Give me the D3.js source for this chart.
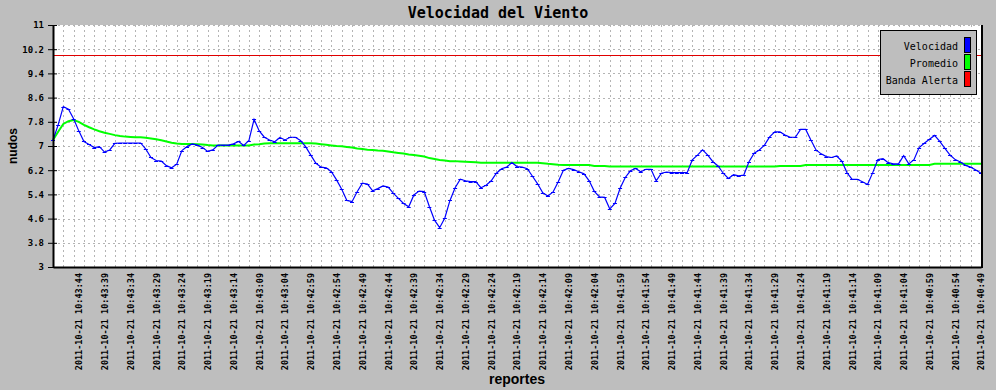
<!DOCTYPE html>
<html>
<head>
<meta charset="utf-8">
<script src="https://cdnjs.cloudflare.com/ajax/libs/d3/7.8.5/d3.min.js"></script>
<style>
body { margin: 0; background: #bebebe; }
svg { display: block; }
.grid line { stroke: #b4b4b4; stroke-dasharray: 2,3; }
</style>
</head>
<body>
<script>
// velocidad del viento, una lectura por segundo (nudos)
var velocidad = [7.2, 7.7, 8.3, 8.22, 7.9, 7.5, 7.15, 7.05, 6.95, 6.98,
  6.8, 6.87, 7.09, 7.1, 7.1, 7.1, 7.1, 7.1, 6.9, 6.62,
  6.52, 6.5, 6.35, 6.28, 6.4, 6.85, 6.98, 7.07, 7.03, 6.95,
  6.82, 6.87, 7.03, 7.03, 7.03, 7.07, 7.15, 7.02, 7.18, 7.88,
  7.5, 7.29, 7.2, 7.14, 7.28, 7.2, 7.29, 7.29, 7.18, 6.98,
  6.7, 6.43, 6.3, 6.28, 6.15, 5.88, 5.57, 5.2, 5.16, 5.49,
  5.77, 5.74, 5.52, 5.59, 5.68, 5.64, 5.44, 5.27, 5.1, 4.99,
  5.38, 5.51, 5.49, 5.0, 4.55, 4.3, 4.62, 5.2, 5.62, 5.9,
  5.85, 5.82, 5.82, 5.62, 5.7, 5.85, 6.1, 6.25, 6.3, 6.45,
  6.32, 6.3, 6.25, 6.0, 5.75, 5.45, 5.35, 5.48, 5.82, 6.2,
  6.26, 6.22, 6.15, 6.08, 5.85, 5.5, 5.32, 5.3, 4.92, 5.1,
  5.6, 5.96, 6.18, 6.26, 6.15, 6.23, 6.23, 5.85, 6.1, 6.14,
  6.12, 6.12, 6.12, 6.12, 6.54, 6.7, 6.87, 6.7, 6.48, 6.34,
  6.1, 5.93, 6.05, 6.01, 6.04, 6.48, 6.76, 6.87, 7.03, 7.3,
  7.47, 7.47, 7.36, 7.29, 7.29, 7.55, 7.55, 7.2, 6.87, 6.74,
  6.65, 6.62, 6.67, 6.5, 6.12, 5.9, 5.9, 5.82, 5.73, 6.12,
  6.55, 6.58, 6.45, 6.41, 6.41, 6.68, 6.41, 6.55, 6.95, 7.09,
  7.22, 7.35, 7.15, 6.92, 6.7, 6.55, 6.47, 6.36, 6.3, 6.21,
  6.1];

var promedio = [7.2, 7.47, 7.73, 7.82, 7.86, 7.8, 7.7, 7.62, 7.55, 7.49,
  7.44, 7.4, 7.36, 7.33, 7.31, 7.3, 7.29, 7.29, 7.27, 7.25,
  7.22, 7.19, 7.15, 7.11, 7.08, 7.07, 7.07, 7.07, 7.06, 7.05,
  7.03, 7.02, 7.02, 7.02, 7.02, 7.02, 7.02, 7.02, 7.02, 7.05,
  7.06, 7.08, 7.09, 7.09, 7.09, 7.09, 7.09, 7.09, 7.09, 7.09,
  7.09, 7.08, 7.06, 7.04, 7.02, 7.0, 6.99, 6.97, 6.95, 6.92,
  6.9, 6.88, 6.87, 6.85, 6.84, 6.82, 6.79, 6.77, 6.75, 6.72,
  6.7, 6.68, 6.65, 6.6, 6.57, 6.54, 6.52, 6.5, 6.5, 6.49,
  6.48, 6.47, 6.46, 6.45, 6.45, 6.45, 6.45, 6.45, 6.45, 6.45,
  6.45, 6.45, 6.45, 6.45, 6.45, 6.43, 6.41, 6.4, 6.38, 6.37,
  6.37, 6.37, 6.37, 6.37, 6.37, 6.34, 6.34, 6.34, 6.32, 6.32,
  6.32, 6.32, 6.32, 6.32, 6.32, 6.32, 6.32, 6.32, 6.32, 6.32,
  6.32, 6.32, 6.32, 6.32, 6.32, 6.32, 6.32, 6.32, 6.32, 6.32,
  6.32, 6.32, 6.32, 6.32, 6.32, 6.32, 6.32, 6.32, 6.32, 6.32,
  6.32, 6.34, 6.34, 6.34, 6.34, 6.34, 6.37, 6.37, 6.37, 6.37,
  6.37, 6.37, 6.37, 6.37, 6.37, 6.37, 6.37, 6.37, 6.37, 6.37,
  6.37, 6.37, 6.37, 6.37, 6.37, 6.37, 6.37, 6.37, 6.37, 6.37,
  6.37, 6.41, 6.41, 6.41, 6.41, 6.41, 6.41, 6.41, 6.41, 6.41,
  6.41];

var bandaAlerta = 10;

var tickLabels = [
  "2011-10-21 10:43:44", "2011-10-21 10:43:39", "2011-10-21 10:43:34", "2011-10-21 10:43:29",
  "2011-10-21 10:43:24", "2011-10-21 10:43:19", "2011-10-21 10:43:14", "2011-10-21 10:43:09",
  "2011-10-21 10:43:04", "2011-10-21 10:42:59", "2011-10-21 10:42:54", "2011-10-21 10:42:49",
  "2011-10-21 10:42:44", "2011-10-21 10:42:39", "2011-10-21 10:42:34", "2011-10-21 10:42:29",
  "2011-10-21 10:42:24", "2011-10-21 10:42:19", "2011-10-21 10:42:14", "2011-10-21 10:42:09",
  "2011-10-21 10:42:04", "2011-10-21 10:41:59", "2011-10-21 10:41:54", "2011-10-21 10:41:49",
  "2011-10-21 10:41:44", "2011-10-21 10:41:39", "2011-10-21 10:41:34", "2011-10-21 10:41:29",
  "2011-10-21 10:41:24", "2011-10-21 10:41:19", "2011-10-21 10:41:14", "2011-10-21 10:41:09",
  "2011-10-21 10:41:04", "2011-10-21 10:40:59", "2011-10-21 10:40:54", "2011-10-21 10:40:49"];
var tickEvery = 5;

var yTicks = [3, 3.8, 4.6, 5.4, 6.2, 7, 7.8, 8.6, 9.4, 10.2, 11];
var yLabels = ["3", "3.8", "4.6", "5.4", "6.2", "7", "7.8", "8.6", "9.4", "10.2", "11"];

var legendNames = ["Velocidad", "Promedio", "Banda Alerta"];
var legendColors = ["#0000ff", "#00ff00", "#ff0000"];

var W = 996, H = 390;
var plotL = 53, plotR = 981, plotT = 25, plotB = 267;

var svg = d3.select("body").append("svg")
  .attr("width", W)
  .attr("height", H);

var x = d3.scaleLinear()
  .domain([0, velocidad.length - 1])
  .range([plotL, plotR]);

var y = d3.scaleLinear()
  .domain([3, 11])
  .range([plotB, plotT]);

// plot area
svg.append("rect")
  .attr("x", plotL).attr("y", plotT)
  .attr("width", plotR - plotL).attr("height", plotB - plotT)
  .attr("fill", "#fff");

// grid
var grid = svg.append("g").attr("class", "grid");
grid.selectAll(".gx")
  .data(d3.range(2, velocidad.length - 1, 2))
  .enter().append("line")
  .attr("x1", d => Math.round(x(d)) + 0.5).attr("x2", d => Math.round(x(d)) + 0.5)
  .attr("y1", plotT).attr("y2", plotB);
grid.selectAll(".gy")
  .data(yTicks.slice(1))
  .enter().append("line")
  .attr("x1", plotL).attr("x2", plotR)
  .attr("y1", d => Math.round(y(d)) + 0.5).attr("y2", d => Math.round(y(d)) + 0.5);

// banda alerta
svg.append("line")
  .attr("x1", plotL).attr("x2", plotR)
  .attr("y1", Math.round(y(bandaAlerta)) + 0.5).attr("y2", Math.round(y(bandaAlerta)) + 0.5)
  .attr("stroke", "#e00000")
  .attr("stroke-width", 1);

var line = d3.line()
  .x((d, i) => x(i))
  .y(d => y(d));

svg.append("path")
  .datum(promedio)
  .attr("d", line)
  .attr("fill", "none")
  .attr("stroke", "#00ff00")
  .attr("stroke-width", 2);

svg.append("path")
  .datum(velocidad)
  .attr("d", line)
  .attr("fill", "none")
  .attr("stroke", "#0000ff")
  .attr("stroke-width", 1.2);

// marcas de cada lectura
svg.append("path")
  .attr("d", velocidad.map((d, i) => "M" + (x(i) - 2) + "," + (Math.round(y(d)) + 0.5) + "h4").join(""))
  .attr("stroke", "#0000ff")
  .attr("stroke-width", 1);

// right edge
svg.append("line")
  .attr("x1", plotR + 1).attr("x2", plotR + 1)
  .attr("y1", plotT).attr("y2", plotB + 1)
  .attr("stroke", "#000")
  .attr("stroke-width", 2);

// y axis
var yAxis = svg.append("g")
  .attr("transform", "translate(" + plotL + ",0)")
  .call(d3.axisLeft(y).tickValues(yTicks).tickSize(5).tickSizeOuter(0).tickPadding(4)
    .tickFormat((d, i) => yLabels[i]));
yAxis.select(".domain").attr("stroke", "#000").attr("stroke-width", 2);
yAxis.selectAll(".tick line").attr("x1", 4).attr("stroke", "#000");
yAxis.selectAll(".tick text")
  .attr("font-family", "DejaVu Sans Mono, monospace")
  .attr("font-weight", "bold")
  .attr("font-size", "9px")
  .attr("fill", "#000");

// x axis
var xAxis = svg.append("g")
  .attr("transform", "translate(0," + plotB + ")")
  .call(d3.axisBottom(x)
    .tickValues(tickLabels.map((d, i) => (i + 1) * tickEvery))
    .tickSize(0).tickSizeOuter(0)
    .tickFormat((d, i) => tickLabels[i]));
xAxis.select(".domain").attr("stroke", "#000").attr("stroke-width", 2);
xAxis.selectAll(".tick text")
  .attr("transform", "rotate(-90)")
  .attr("x", -6).attr("y", 0).attr("dy", "0.35em")
  .attr("text-anchor", "end")
  .attr("font-family", "DejaVu Sans Mono, monospace")
  .attr("font-weight", "bold")
  .attr("font-size", "8.5px")
  .attr("fill", "#000");

// titles
svg.append("text")
  .attr("x", W / 2).attr("y", 18)
  .attr("text-anchor", "middle")
  .attr("font-family", "DejaVu Sans Mono, monospace")
  .attr("font-weight", "bold")
  .attr("font-size", "15px")
  .text("Velocidad del Viento");

svg.append("text")
  .attr("transform", "translate(17," + (plotT + plotB) / 2 + ") rotate(-90)")
  .attr("text-anchor", "middle")
  .attr("font-family", "Liberation Sans, Arial, sans-serif")
  .attr("font-weight", "bold")
  .attr("font-size", "12px")
  .text("nudos");

svg.append("text")
  .attr("x", (plotL + plotR) / 2).attr("y", 384)
  .attr("text-anchor", "middle")
  .attr("font-family", "Liberation Sans, Arial, sans-serif")
  .attr("font-weight", "bold")
  .attr("font-size", "14px")
  .text("reportes");

// legend
var legend = svg.append("g");
legend.append("rect")
  .attr("x", 880.5).attr("y", 30.5)
  .attr("width", 96).attr("height", 64)
  .attr("fill", "#bebebe")
  .attr("stroke", "#000");
var items = legend.selectAll(".item")
  .data(legendNames)
  .enter().append("g")
  .attr("transform", (d, i) => "translate(0," + (i * 17) + ")");
items.append("text")
  .attr("x", 958).attr("y", 50)
  .attr("text-anchor", "end")
  .attr("font-family", "DejaVu Sans Mono, monospace")
  .attr("font-size", "10px")
  .text(d => d);
items.append("rect")
  .attr("x", 964.5).attr("y", 37.5)
  .attr("width", 6).attr("height", 15)
  .attr("fill", (d, i) => legendColors[i])
  .attr("stroke", "#000");
</script>
</body>
</html>
